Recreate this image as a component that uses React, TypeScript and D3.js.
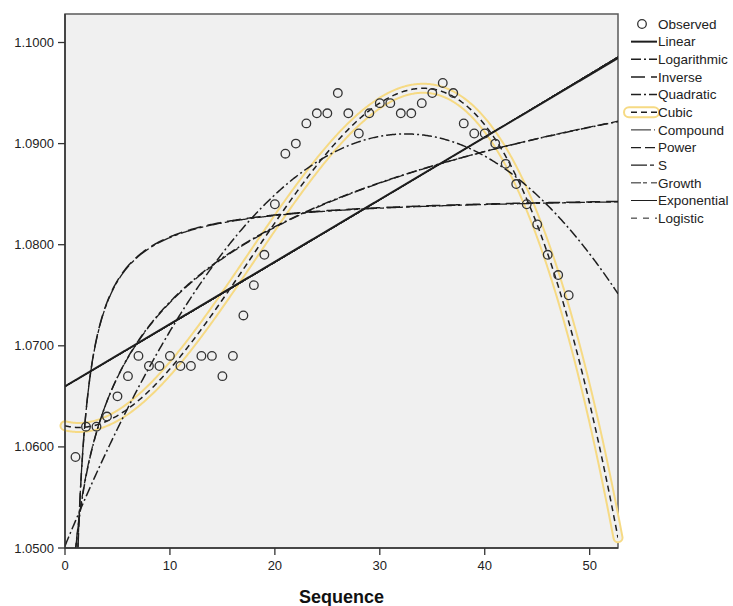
import React from "react";
import * as d3 from "d3";

// ---- data ----
const sequence = [
  1, 2, 3, 4, 5, 6, 7, 8, 9, 10, 11, 12, 13, 14, 15, 16, 17, 18, 19, 20, 21, 22, 23, 24,
  25, 26, 27, 28, 29, 30, 31, 32, 33, 34, 35, 36, 37, 38, 39, 40, 41, 42, 43, 44, 45, 46, 47, 48,
];
const observed = [
  1.059, 1.062, 1.062, 1.063, 1.065, 1.067, 1.069, 1.068, 1.068, 1.069, 1.068, 1.068,
  1.069, 1.069, 1.067, 1.069, 1.073, 1.076, 1.079, 1.084, 1.089, 1.09, 1.092, 1.093,
  1.093, 1.095, 1.093, 1.091, 1.093, 1.094, 1.094, 1.093, 1.093, 1.094, 1.095, 1.096,
  1.095, 1.092, 1.091, 1.091, 1.09, 1.088, 1.086, 1.084, 1.082, 1.079, 1.077, 1.075,
];
const xTicks = [0, 10, 20, 30, 40, 50];
const yTicks = [1.05, 1.06, 1.07, 1.08, 1.09, 1.1];
const xDomain = [0, 52.7];
const yDomain = [1.05, 1.10282];
const modelNames = [
  "Linear", "Logarithmic", "Inverse", "Quadratic", "Cubic", "Compound",
  "Power", "S", "Growth", "Exponential", "Logistic",
];
const xTitle = "Sequence";

// ---- least squares ----
function solve(A: number[][], b: number[]): number[] {
  const n = b.length;
  const M = A.map((r, i) => [...r, b[i]]);
  for (let c = 0; c < n; c++) {
    let p = c;
    for (let r = c + 1; r < n; r++) if (Math.abs(M[r][c]) > Math.abs(M[p][c])) p = r;
    [M[c], M[p]] = [M[p], M[c]];
    for (let r = 0; r < n; r++) {
      if (r === c) continue;
      const f = M[r][c] / M[c][c];
      for (let k = c; k <= n; k++) M[r][k] -= f * M[c][k];
    }
  }
  return M.map((r, i) => r[n] / r[i]);
}
function lstsq(rows: number[][], ys: number[]): number[] {
  const k = rows[0].length;
  const A = Array.from({ length: k }, () => new Array(k).fill(0));
  const b = new Array(k).fill(0);
  rows.forEach((r, i) => {
    for (let a = 0; a < k; a++) {
      b[a] += r[a] * ys[i];
      for (let c = 0; c < k; c++) A[a][c] += r[a] * r[c];
    }
  });
  return solve(A, b);
}

const S = 50;
const lnY = observed.map((v) => Math.log(v));
const fLin = lstsq(sequence.map((x) => [1, x]), observed);
const fLog = lstsq(sequence.map((x) => [1, Math.log(x)]), observed);
const fInv = lstsq(sequence.map((x) => [1, 1 / x]), observed);
const fQuad = lstsq(sequence.map((x) => [1, x / S, (x / S) ** 2]), observed);
const fCub = lstsq(sequence.map((x) => [1, x / S, (x / S) ** 2, (x / S) ** 3]), observed);
const fExp = lstsq(sequence.map((x) => [1, x]), lnY);
const fPow = lstsq(sequence.map((x) => [1, Math.log(x)]), lnY);
const fS = lstsq(sequence.map((x) => [1, 1 / x]), lnY);
const fLgt = lstsq(sequence.map((x) => [1, x]), observed.map((v) => Math.log(1 / v)));

const models: Record<string, (x: number) => number> = {
  Linear: (x) => fLin[0] + fLin[1] * x,
  Logarithmic: (x) => fLog[0] + fLog[1] * Math.log(x),
  Inverse: (x) => fInv[0] + fInv[1] / x,
  Quadratic: (x) => fQuad[0] + fQuad[1] * (x / S) + fQuad[2] * (x / S) ** 2,
  Cubic: (x) => fCub[0] + fCub[1] * (x / S) + fCub[2] * (x / S) ** 2 + fCub[3] * (x / S) ** 3,
  Compound: (x) => Math.exp(fExp[0] + fExp[1] * x),
  Power: (x) => Math.exp(fPow[0] + fPow[1] * Math.log(x)),
  S: (x) => Math.exp(fS[0] + fS[1] / x),
  Growth: (x) => Math.exp(fExp[0] + fExp[1] * x),
  Exponential: (x) => Math.exp(fExp[0] + fExp[1] * x),
  Logistic: (x) => 1 / Math.exp(fLgt[0] + fLgt[1] * x),
};

// ---- styles ----
const lineStyle: Record<string, { dash: string; w: number }> = {
  Linear: { dash: "none", w: 2 },
  Logarithmic: { dash: "10,3,2,3", w: 1.5 },
  Inverse: { dash: "14,6", w: 1.5 },
  Quadratic: { dash: "10,3,2,3", w: 1.5 },
  Cubic: { dash: "6,4", w: 1.5 },
  Compound: { dash: "20,3,1,3", w: 1 },
  Power: { dash: "10,4", w: 1.3 },
  S: { dash: "16,3,4,3", w: 1.3 },
  Growth: { dash: "10,2,4,4", w: 1 },
  Exponential: { dash: "none", w: 1 },
  Logistic: { dash: "6,6", w: 1 },
};
const INK = "#1e1e1e";
const HILITE = "#f6da84";
const PLOT_BG = "#f0f0f0";
const FONT = "'Liberation Sans', Arial, sans-serif";

const W = 733, H = 606;
const L = 65, R = 618, T = 14, B = 548;

export default function App() {
  const x = d3.scaleLinear().domain(xDomain).range([L, R]);
  const y = d3.scaleLinear().domain(yDomain).range([B, T]);
  const xs: number[] = [];
  for (let v = 0.01; v < 1; v += 0.01) xs.push(v);
  for (let v = 1; v <= xDomain[1] + 1e-9; v += 0.1) xs.push(v);
  xs.unshift(0);
  const clampY = (v: number) => Math.max(0.9, Math.min(1.2, v));
  const curvePath = (name: string) => {
    const f = models[name];
    const pts = xs
      .map((v) => [v, f(v)] as [number, number])
      .filter((p) => isFinite(p[1]));
    return d3
      .line<[number, number]>()
      .x((p) => x(p[0]))
      .y((p) => y(clampY(p[1])))(pts) as string;
  };
  const cubicPath = curvePath("Cubic");
  const rowY = (i: number) => 24 + i * 17.65;

  return (
    <div style={{ position: "absolute", left: 0, top: 0 }}>
      <svg width={W} height={H} style={{ display: "block", fontFamily: FONT }}>
        <defs>
          <clipPath id="plotclip">
            <rect x={L} y={T} width={R - L} height={B - T} />
          </clipPath>
        </defs>
        <rect x={0} y={0} width={W} height={H} fill="#ffffff" />
        <rect x={L} y={T} width={R - L} height={B - T} fill={PLOT_BG} stroke="#5a5a5a" strokeWidth={1.5} />

        {/* highlight around cubic */}
        <path d={cubicPath} fill="none" stroke={HILITE} strokeWidth={11} strokeLinecap="round" strokeLinejoin="round" />
        <path d={cubicPath} fill="none" stroke={PLOT_BG} strokeWidth={7} strokeLinecap="round" strokeLinejoin="round" />

        <g clipPath="url(#plotclip)">
          {modelNames.map((m) => (
            <path
              key={m}
              d={curvePath(m)}
              fill="none"
              stroke={INK}
              strokeWidth={lineStyle[m].w}
              strokeDasharray={lineStyle[m].dash}
            />
          ))}
          {sequence.map((s, i) => (
            <circle key={s} cx={x(s)} cy={y(observed[i])} r={4.3} fill="none" stroke="#333" strokeWidth={1.3} />
          ))}
        </g>

        {/* axes */}
        <line x1={L} x2={L} y1={T} y2={B} stroke="#333" strokeWidth={1.5} />
        <line x1={L} x2={R} y1={B} y2={B} stroke="#333" strokeWidth={1.5} />
        {yTicks.map((t) => (
          <g key={t}>
            <line x1={L - 7} x2={L} y1={y(t)} y2={y(t)} stroke="#333" strokeWidth={1.3} />
            <text x={L - 11} y={y(t)} dy="0.35em" textAnchor="end" fontSize={13} fill="#222">
              {d3.format(".4f")(t)}
            </text>
          </g>
        ))}
        {xTicks.map((t) => (
          <g key={t}>
            <line x1={x(t)} x2={x(t)} y1={B} y2={B + 7} stroke="#333" strokeWidth={1.3} />
            <text x={x(t)} y={B + 22} textAnchor="middle" fontSize={13} fill="#222">
              {t}
            </text>
          </g>
        ))}
        <text x={(L + R) / 2} y={603} textAnchor="middle" fontSize={18} fontWeight="bold" fill="#111">
          {xTitle}
        </text>

        {/* legend */}
        <g>
          <circle cx={642} cy={rowY(0)} r={4.3} fill="none" stroke="#333" strokeWidth={1.3} />
          <text x={658} y={rowY(0)} dy="0.35em" fontSize={13.5} fill="#222">Observed</text>
          {modelNames.map((m, i) => (
            <g key={m}>
              {m === "Cubic" && (
                <rect x={624} y={rowY(i + 1) - 5} width={35} height={10} rx={5} fill="none" stroke={HILITE} strokeWidth={2} />
              )}
              <line
                x1={631}
                x2={657}
                y1={rowY(i + 1)}
                y2={rowY(i + 1)}
                stroke={INK}
                strokeWidth={lineStyle[m].w}
                strokeDasharray={lineStyle[m].dash}
              />
              <text x={658} y={rowY(i + 1)} dy="0.35em" fontSize={13.5} fill="#222">
                {m}
              </text>
            </g>
          ))}
        </g>
      </svg>
    </div>
  );
}
